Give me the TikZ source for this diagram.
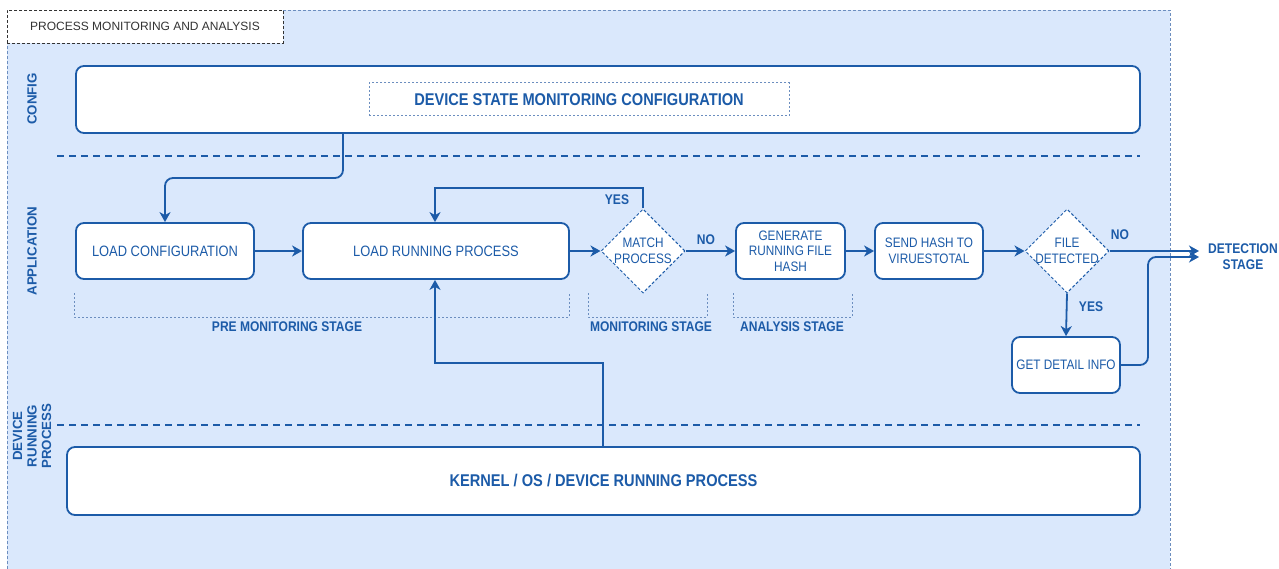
\documentclass[tikz,border=0pt]{standalone}
\usepackage{fontspec}
\setmainfont{Liberation Sans}
\newfontfamily\cond[FakeStretch=0.86]{Liberation Sans}
\usetikzlibrary{arrows.meta,shapes.geometric}
\definecolor{lineblue}{HTML}{1C5BA8}
\definecolor{laneblue}{HTML}{DAE8FC}
\definecolor{laneedge}{HTML}{6C8EBF}
\definecolor{titlegray}{HTML}{333333}
\tikzset{
  procbox/.style={draw=lineblue, line width=1.8pt, fill=white, rounded corners=8pt,
    text=lineblue, font=\cond\fontsize{15}{16}\selectfont, align=center, inner sep=0pt},
  smallbox/.style={procbox, font=\cond\fontsize{13.7}{15.5}\selectfont},
  decision/.style={diamond, draw=lineblue, line width=1pt, dash pattern=on 3pt off 2pt,
    fill=white, inner sep=0pt, minimum width=84pt, minimum height=84pt},
  boxtext/.style={text=lineblue, font=\cond\fontsize{13.7}{15.5}\selectfont, align=center, inner sep=0pt},
  tag/.style={text=lineblue, font=\cond\bfseries\fontsize{14}{16}\selectfont, align=center, inner sep=0pt},
  lanetag/.style={text=lineblue, font=\bfseries\fontsize{13.3}{14.5}\selectfont, align=center, inner sep=0pt, rotate=90},
  conn/.style={draw=lineblue, line width=1.8pt, -{Stealth[length=10pt,width=11pt,inset=3pt]}},
  separator/.style={draw=lineblue, line width=1.8pt, dash pattern=on 7pt off 5pt},
  bracket/.style={draw=laneedge, line width=1pt, dash pattern=on 2pt off 2pt},
}
\begin{document}
\begin{tikzpicture}[x=1pt,y=-1pt]
\useasboundingbox (0,0) rectangle (1279,569);

% swimlane container
\fill[laneblue] (7,10) rectangle (1170,569);
\draw[laneedge, line width=0.8pt, dash pattern=on 3pt off 2pt] (7,569) -- (7,10) -- (1170,10) -- (1170,569);
\node[draw=titlegray, line width=0.8pt, dash pattern=on 3pt off 2pt, fill=white,
      minimum width=276pt, minimum height=33pt, inner sep=0pt,
      text=titlegray, font=\fontsize{12}{14}\selectfont] (title) at (145,26.5) {PROCESS MONITORING AND ANALYSIS};

% lane labels
\node[lanetag] (lconfig) at (32,99) {CONFIG};
\node[lanetag] (lapp) at (32,251) {APPLICATION};
\node[lanetag] (ldevice) at (32,436) {DEVICE\\RUNNING\\PROCESS};

% lane separators
\draw[separator] (57,156) -- (1140,156);
\draw[separator] (57,425) -- (1140,425);

% configuration lane
\node[procbox, minimum width=1064pt, minimum height=67pt] (cfg) at (608,99.5) {};
\node[draw=laneedge, line width=1pt, dash pattern=on 2pt off 2pt, fill=white,
      minimum width=420pt, minimum height=33pt, inner sep=0pt,
      text=lineblue, font=\cond\bfseries\fontsize{17}{19}\selectfont] (cfgname) at (579,99.5) {DEVICE STATE MONITORING CONFIGURATION};

% application lane
\node[procbox, minimum width=178pt, minimum height=56pt] (loadcfg) at (165,251) {LOAD CONFIGURATION};
\node[procbox, minimum width=266pt, minimum height=56pt] (loadrun) at (436,251) {LOAD RUNNING PROCESS};
\node[decision] (match) at (643,251) {};
\node[boxtext] (matchtxt) at (match) {MATCH\\PROCESS};
\node[smallbox, minimum width=109pt, minimum height=56pt] (genhash) at (790.5,251) {GENERATE\\RUNNING FILE\\HASH};
\node[smallbox, minimum width=108pt, minimum height=56pt] (sendhash) at (929,251) {SEND HASH TO\\VIRUESTOTAL};
\node[decision] (filedet) at (1067,251) {};
\node[boxtext] (filedettxt) at (filedet) {FILE\\DETECTED};
\node[smallbox, minimum width=108pt, minimum height=56pt] (detail) at (1066,365) {GET DETAIL INFO};
\node[tag] (detect) at (1243,257) {DETECTION\\STAGE};
\coordinate (detin1) at (1199,251);
\coordinate (detin2) at (1199,257);

% stage brackets
\draw[bracket] (74,293) -- (74,317) -- (569,317) -- (569,293);
\draw[bracket] (588,293) -- (588,317) -- (707,317) -- (707,293);
\draw[bracket] (733,293) -- (733,317) -- (852,317) -- (852,293);
\node[tag] (spre) at (287,326.5) {PRE MONITORING STAGE};
\node[tag] (smon) at (651,326.5) {MONITORING STAGE};
\node[tag] (sana) at (792,326.5) {ANALYSIS STAGE};

% device lane
\node[procbox, minimum width=1073pt, minimum height=68pt, font=\cond\bfseries\fontsize{17}{19}\selectfont] (kernel) at (603.5,481) {KERNEL / OS / DEVICE RUNNING PROCESS};

% connectors
\draw[conn, rounded corners=8pt] (cfg.south -| 343,0) -- (343,178) -- (165,178) -- (loadcfg.north);
\draw[conn] (loadcfg.east) -- (loadrun.west);
\draw[conn] (loadrun.east) -- (match.west);
\draw[conn] (match.north) -- (643,188) -- (435,188) -- (loadrun.north -| 435,0);
\node[tag] (yes1) at (617,200) {YES};
\draw[conn] (match.east) -- (genhash.west);
\node[tag] (no1) at (706,240) {NO};
\draw[conn] (genhash.east) -- (sendhash.west);
\draw[conn] (sendhash.east) -- (filedet.west);
\draw[conn] (filedet.east) -- (detin1);
\node[tag] (no2) at (1120,235) {NO};
\draw[conn] (filedet.south) -- (detail.north);
\node[tag] (yes2) at (1091,307) {YES};
\draw[conn, rounded corners=8pt] (detail.east) -- (1148,365) -- (1148,257) -- (detin2);
\draw[conn] (kernel.north -| 603,0) -- (603,363) -- (435,363) -- (loadrun.south -| 435,0);
\end{tikzpicture}
\end{document}
